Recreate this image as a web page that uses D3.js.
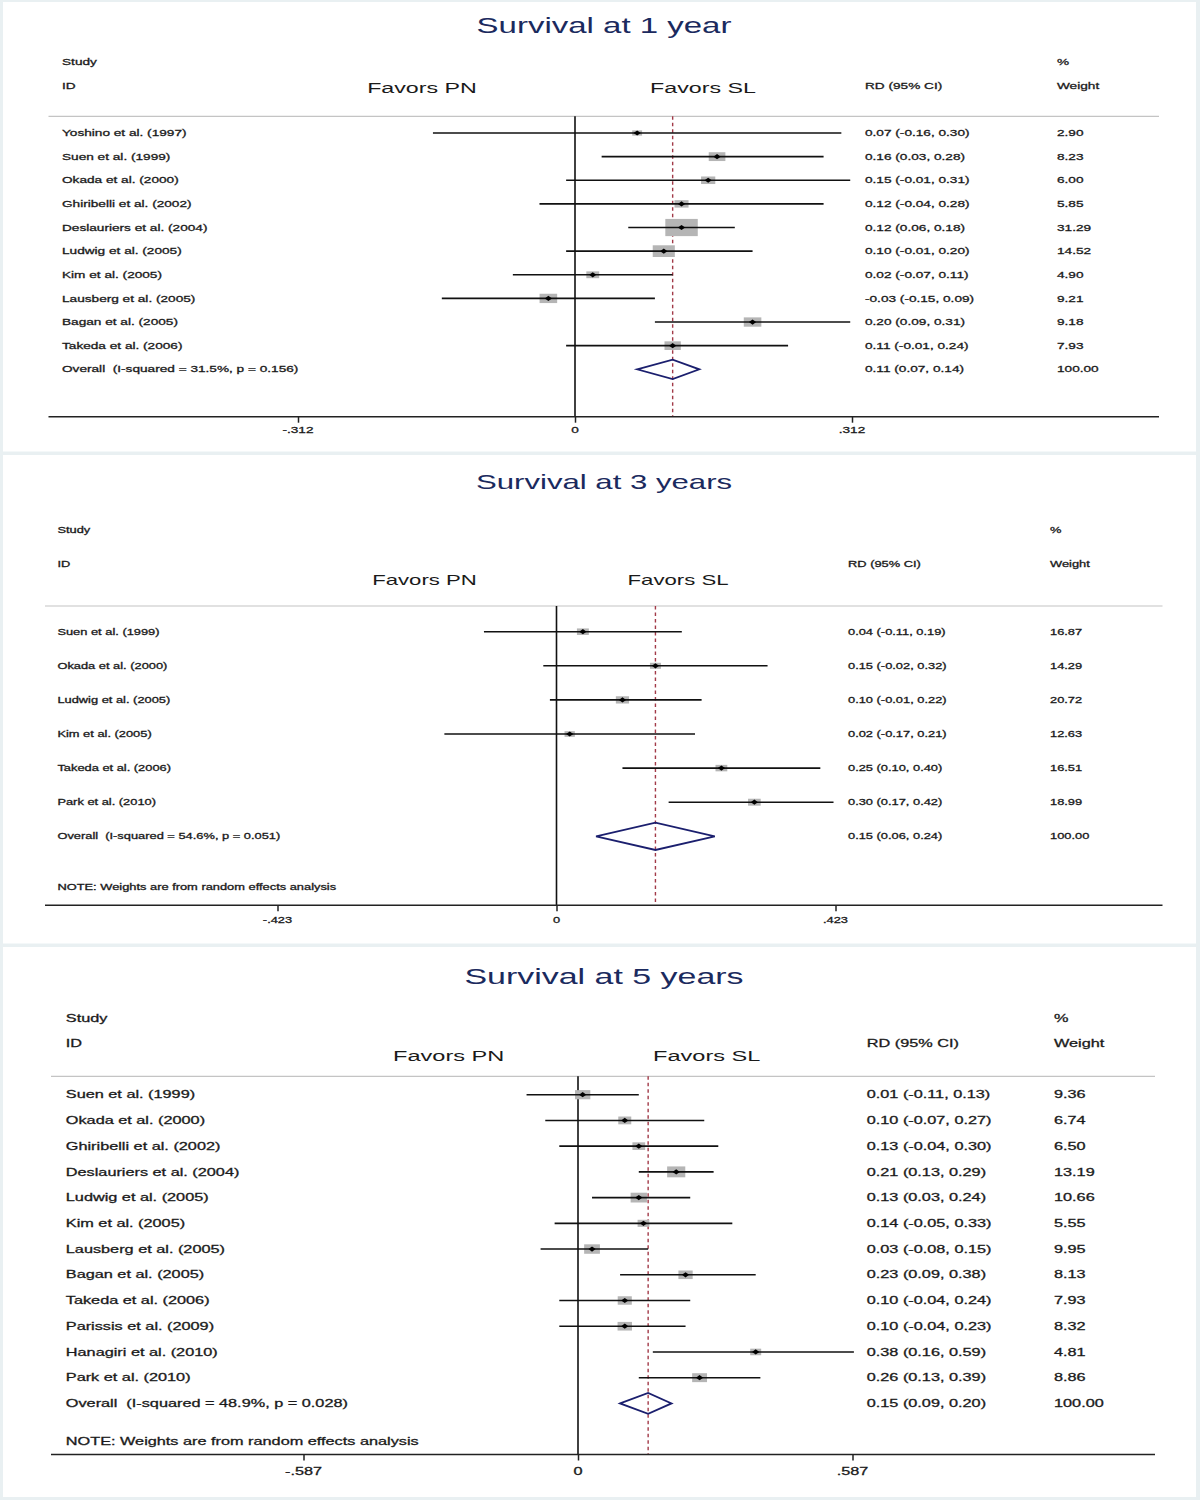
<!DOCTYPE html>
<html><head><meta charset="utf-8">
<script src="https://cdn.jsdelivr.net/npm/d3@7"></script>
<style>
body{margin:0;background:#e9f0f2;}
svg{display:block;}
text{font-family:"Liberation Sans",Arial,sans-serif;white-space:pre;}
</style>
</head><body>
<svg id="chart" width="1200" height="1500"></svg>
<script>
// ---------- DATA ----------
const titles = ["Survival at 1 year", "Survival at 3 years", "Survival at 5 years"];

const studies1 = ["Yoshino et al. (1997)","Suen et al. (1999)","Okada et al. (2000)","Ghiribelli et al. (2002)","Deslauriers et al. (2004)","Ludwig et al. (2005)","Kim et al. (2005)","Lausberg et al. (2005)","Bagan et al. (2005)","Takeda et al. (2006)"];
const rd1 = [0.07, 0.16, 0.15, 0.12, 0.12, 0.10, 0.02, -0.03, 0.20, 0.11];
const lo1 = [-0.16, 0.03, -0.01, -0.04, 0.06, -0.01, -0.07, -0.15, 0.09, -0.01];
const hi1 = [0.30, 0.28, 0.31, 0.28, 0.18, 0.20, 0.11, 0.09, 0.31, 0.24];
const wt1 = [2.90, 8.23, 6.00, 5.85, 31.29, 14.52, 4.90, 9.21, 9.18, 7.93];
const overall1 = [0.11, 0.07, 0.14];
const overallLabel1 = "Overall  (I-squared = 31.5%, p = 0.156)";
const ticks1 = [-0.312, 0, 0.312];
const tickLabels1 = ["-.312", "0", ".312"];

const studies2 = ["Suen et al. (1999)","Okada et al. (2000)","Ludwig et al. (2005)","Kim et al. (2005)","Takeda et al. (2006)","Park et al. (2010)"];
const rd2 = [0.04, 0.15, 0.10, 0.02, 0.25, 0.30];
const lo2 = [-0.11, -0.02, -0.01, -0.17, 0.10, 0.17];
const hi2 = [0.19, 0.32, 0.22, 0.21, 0.40, 0.42];
const wt2 = [16.87, 14.29, 20.72, 12.63, 16.51, 18.99];
const overall2 = [0.15, 0.06, 0.24];
const overallLabel2 = "Overall  (I-squared = 54.6%, p = 0.051)";
const ticks2 = [-0.423, 0, 0.423];
const tickLabels2 = ["-.423", "0", ".423"];

const studies3 = ["Suen et al. (1999)","Okada et al. (2000)","Ghiribelli et al. (2002)","Deslauriers et al. (2004)","Ludwig et al. (2005)","Kim et al. (2005)","Lausberg et al. (2005)","Bagan et al. (2005)","Takeda et al. (2006)","Parissis et al. (2009)","Hanagiri et al. (2010)","Park et al. (2010)"];
const rd3 = [0.01, 0.10, 0.13, 0.21, 0.13, 0.14, 0.03, 0.23, 0.10, 0.10, 0.38, 0.26];
const lo3 = [-0.11, -0.07, -0.04, 0.13, 0.03, -0.05, -0.08, 0.09, -0.04, -0.04, 0.16, 0.13];
const hi3 = [0.13, 0.27, 0.30, 0.29, 0.24, 0.33, 0.15, 0.38, 0.24, 0.23, 0.59, 0.39];
const wt3 = [9.36, 6.74, 6.50, 13.19, 10.66, 5.55, 9.95, 8.13, 7.93, 8.32, 4.81, 8.86];
const overall3 = [0.15, 0.09, 0.20];
const overallLabel3 = "Overall  (I-squared = 48.9%, p = 0.028)";
const ticks3 = [-0.587, 0, 0.587];
const tickLabels3 = ["-.587", "0", ".587"];

const noteText = "NOTE: Weights are from random effects analysis";

// ---------- LAYOUT ----------
const SX = 1.55;
const svg = d3.select("#chart");
const fmt2 = v => v.toFixed(2);
function rdText(e, l, h){ return fmt2(e) + " (" + fmt2(l) + ", " + fmt2(h) + ")"; }

function T(g, x, y, s, size, o = {}) {
  const t = g.append("text")
    .attr("transform", `translate(${x},${y}) scale(${o.sx || SX},1)`)
    .attr("dy", "0.35em")
    .attr("font-size", size)
    .attr("fill", o.fill || "#1a1a1a")
    .attr("text-anchor", o.anchor || "start")
    .text(s);
  if (!o.noStroke) t.attr("stroke", o.fill || "#1a1a1a").attr("stroke-width", 0.28);
  return t;
}

const panels = [
  { title: titles[0], studies: studies1, rd: rd1, lo: lo1, hi: hi1, wt: wt1, ov: overall1, ovLab: overallLabel1, ticks: ticks1, tickLabels: tickLabels1, note: false,
    top: 2, bottom: 451.5, titleY: 26, titleFs: 21.3, studyY: 62, idY: 86, favY: 88, favFs: 15, pnX: 422, slX: 703,
    hLineY: 116.3, x0: 48.5, x1: 1159, row0: 133, rowN: 369.3, axisY: 416.7, tickLabY: 430,
    range: [298, 852], labX: 62, rdX: 865, wtX: 1057, fs: 8.8, boxK: 5.8, boxR: 0.53, dh: 9.7 },
  { title: titles[1], studies: studies2, rd: rd2, lo: lo2, hi: hi2, wt: wt2, ov: overall2, ovLab: overallLabel2, ticks: ticks2, tickLabels: tickLabels2, note: true,
    top: 455, bottom: 943.5, titleY: 482, titleFs: 20.1, studyY: 530, idY: 563.7, favY: 579.5, favFs: 14.3, pnX: 424.5, slX: 678,
    hLineY: 606, x0: 45, x1: 1162.5, row0: 631.7, rowN: 836.3, noteY: 887.3, axisY: 905.3, tickLabY: 920,
    range: [277.5, 835.5], labX: 57.4, rdX: 848, wtX: 1050, fs: 8.3, boxK: 2.9, boxR: 0.55, dh: 13.7 },
  { title: titles[2], studies: studies3, rd: rd3, lo: lo3, hi: hi3, wt: wt3, ov: overall3, ovLab: overallLabel3, ticks: ticks3, tickLabels: tickLabels3, note: true,
    top: 947, bottom: 1497, titleY: 976, titleFs: 21.9, studyY: 1018.3, idY: 1043.4, favY: 1055.4, favFs: 15.2, pnX: 448.7, slX: 706.7,
    hLineY: 1076.3, x0: 51, x1: 1155, row0: 1094.7, rowN: 1403.4, noteY: 1441.6, axisY: 1454.5, tickLabY: 1471.5,
    range: [303.5, 852.5], labX: 65.8, rdX: 866.7, wtX: 1054, fs: 10.5, boxK: 5.0, boxR: 0.6, dh: 10.4 }
];

panels.forEach(p => {
  const g = svg.append("g");
  g.append("rect").attr("x", 3).attr("y", p.top).attr("width", 1193).attr("height", p.bottom - p.top).attr("fill", "#ffffff");

  const n = p.studies.length;
  const xs = d3.scaleLinear().domain([p.ticks[0], p.ticks[2]]).range(p.range);
  const ys = d3.scaleLinear().domain([0, n]).range([p.row0, p.rowN]);

  // title
  T(g, 604, p.titleY, p.title, p.titleFs, { anchor: "middle", fill: "#1b2a5e", noStroke: true });

  // headers
  T(g, p.labX, p.studyY, "Study", p.fs);
  T(g, p.labX, p.idY, "ID", p.fs);
  T(g, p.wtX, p.studyY, "%", p.fs);
  T(g, p.wtX, p.idY, "Weight", p.fs);
  T(g, p.rdX, p.idY, "RD (95% CI)", p.fs);
  T(g, p.pnX, p.favY, "Favors PN", p.favFs, { anchor: "middle", noStroke: true });
  T(g, p.slX, p.favY, "Favors SL", p.favFs, { anchor: "middle", noStroke: true });

  // header rule
  g.append("line").attr("x1", p.x0).attr("x2", p.x1).attr("y1", p.hLineY).attr("y2", p.hLineY)
    .attr("stroke", "#c4c4c4").attr("stroke-width", 1.2);

  // zero line
  g.append("line").attr("x1", xs(0)).attr("x2", xs(0)).attr("y1", p.hLineY).attr("y2", p.axisY)
    .attr("stroke", "#111").attr("stroke-width", 1.6);

  // overall dashed line
  g.append("line").attr("x1", xs(p.ov[0])).attr("x2", xs(p.ov[0])).attr("y1", p.hLineY).attr("y2", p.axisY)
    .attr("stroke", "#a23a48").attr("stroke-width", 1.4).attr("stroke-dasharray", "3.5,3");

  // study rows
  p.studies.forEach((s, i) => {
    const y = ys(i);
    const w = p.boxK * Math.sqrt(p.wt[i]);
    const h = w * p.boxR;
    g.append("rect").attr("x", xs(p.rd[i]) - w / 2).attr("y", y - h / 2).attr("width", w).attr("height", h)
      .attr("fill", "#b5b5b5");
    g.append("line").attr("x1", xs(p.lo[i])).attr("x2", xs(p.hi[i])).attr("y1", y).attr("y2", y)
      .attr("stroke", "#111").attr("stroke-width", 1.6);
    g.append("path").attr("d", "M-3.6,0L0,-2.6L3.6,0L0,2.6Z")
      .attr("transform", `translate(${xs(p.rd[i])},${y})`).attr("fill", "#000");
    T(g, p.labX, y, s, p.fs);
    T(g, p.rdX, y, rdText(p.rd[i], p.lo[i], p.hi[i]), p.fs);
    T(g, p.wtX, y, fmt2(p.wt[i]), p.fs);
  });

  // overall
  const yo = ys(n);
  g.append("path")
    .attr("d", `M${xs(p.ov[1])},${yo}L${xs(p.ov[0])},${yo - p.dh}L${xs(p.ov[2])},${yo}L${xs(p.ov[0])},${yo + p.dh}Z`)
    .attr("fill", "none").attr("stroke", "#1b1f6e").attr("stroke-width", 1.8);
  T(g, p.labX, yo, p.ovLab, p.fs);
  T(g, p.rdX, yo, rdText(p.ov[0], p.ov[1], p.ov[2]), p.fs);
  T(g, p.wtX, yo, "100.00", p.fs);

  if (p.note) T(g, p.labX, p.noteY, noteText, p.fs);

  // axis
  g.append("line").attr("x1", p.x0).attr("x2", p.x1).attr("y1", p.axisY).attr("y2", p.axisY)
    .attr("stroke", "#222").attr("stroke-width", 1.6);
  const ax = g.append("g").attr("transform", `translate(0,${p.axisY})`)
    .call(d3.axisBottom(xs).tickValues(p.ticks).tickSize(6).tickFormat((d, i) => p.tickLabels[i]));
  ax.select(".domain").remove();
  ax.selectAll(".tick line").attr("stroke", "#222").attr("stroke-width", 1.5);
  ax.selectAll(".tick text").remove();
  p.ticks.forEach((t, i) => T(g, xs(t), p.tickLabY, p.tickLabels[i], p.fs, { anchor: "middle" }));
});
</script>
</body></html>
